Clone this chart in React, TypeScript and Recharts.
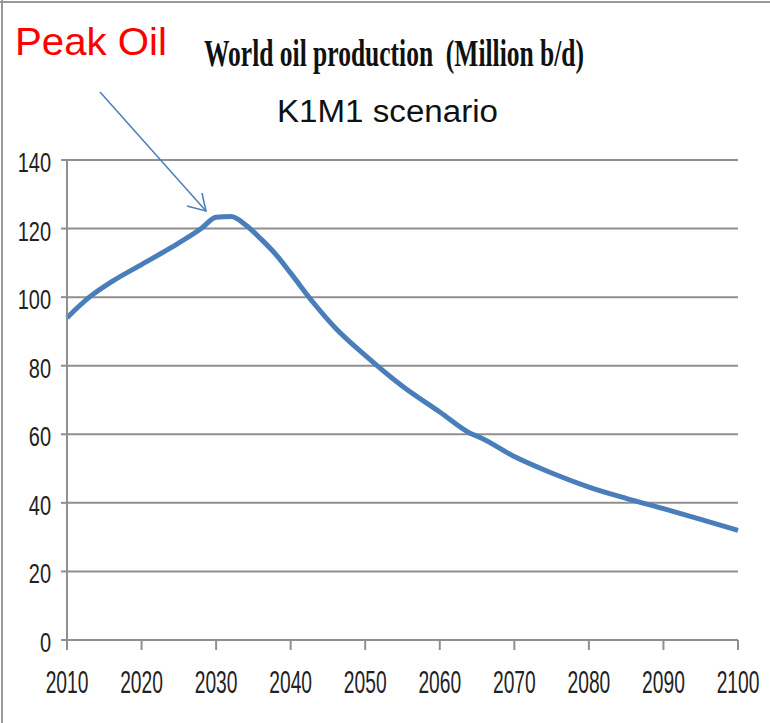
import { LineChart, Line, XAxis, YAxis, CartesianGrid } from "recharts";

const years = [2010, 2013, 2016, 2020, 2024, 2028, 2030, 2032, 2034, 2036, 2038, 2040, 2043, 2046, 2050, 2055, 2060, 2064, 2065.5, 2070, 2075, 2080, 2085, 2090, 2095, 2100];
const production = [94, 100, 104.5, 109.5, 114.5, 120, 123.3, 123.5, 121, 117, 112.5, 107, 98.5, 91, 83, 74, 66.5, 60.4, 59, 53.5, 48.7, 44.6, 41.3, 38.3, 35.2, 32];
const yearTicks = [2010, 2020, 2030, 2040, 2050, 2060, 2070, 2080, 2090, 2100];
const valueTicks = [0, 20, 40, 60, 80, 100, 120, 140];

const data = years.map((year, i) => ({ year, value: production[i] }));

const GRID = "#8f8f8f";
const BLUE = "#4a7ebb";

function XTick({ x, y, payload }: any) {
    return (
        <text transform={`translate(${x},${y + 41}) scale(0.62,1)`} textAnchor="middle" fontSize={31} fontFamily="Liberation Sans, Arial, sans-serif" fill="#222">
            {payload.value}
        </text>
    );
}

function YTick({ x, y, payload }: any) {
    return (
        <text transform={`translate(${x - 8},${y + 12}) scale(0.74,1)`} textAnchor="end" fontSize={27} fontFamily="Liberation Sans, Arial, sans-serif" fill="#222">
            {payload.value}
        </text>
    );
}

export default function App() {
    return (
        <div style={{ position: "absolute", left: 0, top: 0, width: 770, height: 723, background: "#fff" }}>
            <LineChart width={770} height={723} data={data} margin={{ top: 160, right: 32, left: 0, bottom: 0 }}>
                <CartesianGrid vertical={false} stroke={GRID} strokeWidth={2} />
                <XAxis
                    dataKey="year"
                    type="number"
                    domain={[2010, 2100]}
                    ticks={yearTicks}
                    height={83}
                    tickSize={10}
                    stroke={GRID}
                    strokeWidth={2}
                    tick={<XTick />}
                />
                <YAxis
                    domain={[0, 140]}
                    ticks={valueTicks}
                    width={67}
                    tickSize={6}
                    stroke={GRID}
                    strokeWidth={2}
                    tick={<YTick />}
                />
                <Line type="monotone" dataKey="value" stroke={BLUE} strokeWidth={5} dot={false} isAnimationActive={false} />
            </LineChart>
            {/* titles, annotation and frame on top */}
            <svg width={770} height={723} style={{ position: "absolute", left: 0, top: 0, pointerEvents: "none" }}>
                <line x1={0} y1={2} x2={770} y2={2} stroke="#999" strokeWidth={2} />
                <line x1={2} y1={0} x2={2} y2={723} stroke="#999" strokeWidth={2} />
                <text x={15} y={55} fontSize={39} fill="#ff0000" fontFamily="Liberation Sans, Arial, sans-serif" textLength={152} lengthAdjust="spacingAndGlyphs">
                    Peak Oil
                </text>
                <text x={204} y={66} fontSize={37} fontWeight="bold" fill="#111" fontFamily="Liberation Serif, Times New Roman, serif" textLength={380} lengthAdjust="spacingAndGlyphs" style={{ whiteSpace: "pre" }}>
                    {"World oil production  (Million b/d)"}
                </text>
                <text x={277} y={122} fontSize={31} fill="#111" fontFamily="Liberation Sans, Arial, sans-serif" textLength={221} lengthAdjust="spacingAndGlyphs">
                    K1M1 scenario
                </text>
                <line x1={100} y1={92} x2={206} y2={211} stroke={BLUE} strokeWidth={1.5} />
                <polyline points="187,206 206,211 202,193" fill="none" stroke={BLUE} strokeWidth={1.5} />
            </svg>
        </div>
    );
}
